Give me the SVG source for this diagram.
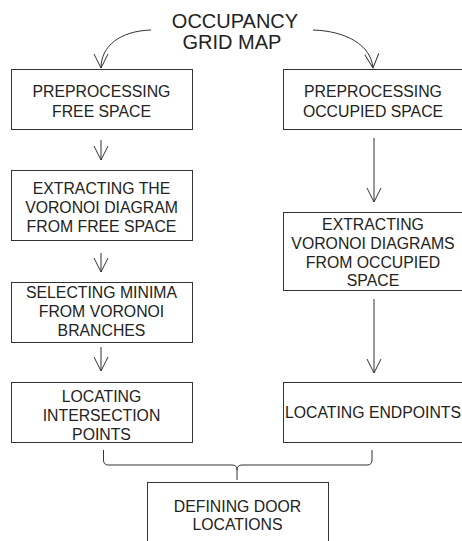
<svg xmlns="http://www.w3.org/2000/svg" width="462" height="541" viewBox="0 0 462 541">
<defs>
<style>
.box{fill:#fff;stroke:#333;stroke-width:1}
.t{font-family:"Liberation Sans",Arial,sans-serif;font-size:15.8px;fill:#222;text-anchor:middle}
.title{font-size:20px}
.ln{fill:none;stroke:#333;stroke-width:1}
</style>
<marker id="v" markerWidth="20" markerHeight="20" viewBox="-17 -10 20 20" refX="0" refY="0" orient="auto" markerUnits="userSpaceOnUse">
<path d="M-14,-7 L0,0 L-14,7" fill="none" stroke="#333" stroke-width="1"/>
</marker>
</defs>
<rect width="462" height="541" fill="#fff"/>
<g id="title">
<text class="t title" x="235" y="28">OCCUPANCY</text>
<text class="t title" x="232" y="49">GRID MAP</text>
</g>
<g id="connectors">
<path class="ln" d="M151,30 C120,31 101,46 101,68" marker-end="url(#v)"/>
<path class="ln" d="M313,30 C346,31 371,45 373,68" marker-end="url(#v)"/>
<path class="ln" d="M101,140 L101,160" marker-end="url(#v)"/>
<path class="ln" d="M101,253 L101,272" marker-end="url(#v)"/>
<path class="ln" d="M101,347 L101,371" marker-end="url(#v)"/>
<path class="ln" d="M374,138 L374,202" marker-end="url(#v)"/>
<path class="ln" d="M374,299 L374,373" marker-end="url(#v)"/>
<path class="ln" d="M103.5,450 L103.5,460 Q103.5,465 108.5,465 L232,465 Q237,465 237,470 L237,480 M237,470 Q237,465 242,465 L367,465 Q372,465 372,460 L372,450"/>
</g>
<g id="n1">
<rect class="box" x="11.5" y="69.5" width="181" height="60"/>
<text class="t" x="101.5" y="97">PREPROCESSING</text>
<text class="t" x="101.5" y="117">FREE SPACE</text>
</g>
<g id="n2">
<rect class="box" x="11.5" y="170.5" width="181" height="70"/>
<text class="t" x="101.5" y="194">EXTRACTING THE</text>
<text class="t" x="101.5" y="213">VORONOI DIAGRAM</text>
<text class="t" x="101.5" y="232">FROM FREE SPACE</text>
</g>
<g id="n3">
<rect class="box" x="11.5" y="282.5" width="181" height="60"/>
<text class="t" x="101.5" y="298">SELECTING MINIMA</text>
<text class="t" x="101.5" y="317">FROM VORONOI</text>
<text class="t" x="101.5" y="336">BRANCHES</text>
</g>
<g id="n4">
<rect class="box" x="11.5" y="382.5" width="181" height="60"/>
<text class="t" x="101.5" y="402">LOCATING</text>
<text class="t" x="101.5" y="421">INTERSECTION</text>
<text class="t" x="101.5" y="440">POINTS</text>
</g>
<g id="n5">
<rect class="box" x="283.5" y="69.5" width="180" height="60"/>
<text class="t" x="373" y="97">PREPROCESSING</text>
<text class="t" x="373" y="117">OCCUPIED SPACE</text>
</g>
<g id="n6">
<rect class="box" x="283.5" y="212.5" width="180" height="78"/>
<text class="t" x="373" y="230">EXTRACTING</text>
<text class="t" x="373" y="249">VORONOI DIAGRAMS</text>
<text class="t" x="373" y="268">FROM OCCUPIED</text>
<text class="t" x="373" y="286">SPACE</text>
</g>
<g id="n7">
<rect class="box" x="283.5" y="382.5" width="180" height="60"/>
<text class="t" x="373" y="418">LOCATING ENDPOINTS</text>
</g>
<g id="n8">
<rect class="box" x="147.5" y="482.5" width="181" height="70"/>
<text class="t" x="237.5" y="512">DEFINING DOOR</text>
<text class="t" x="237.5" y="530">LOCATIONS</text>
</g>
</svg>
